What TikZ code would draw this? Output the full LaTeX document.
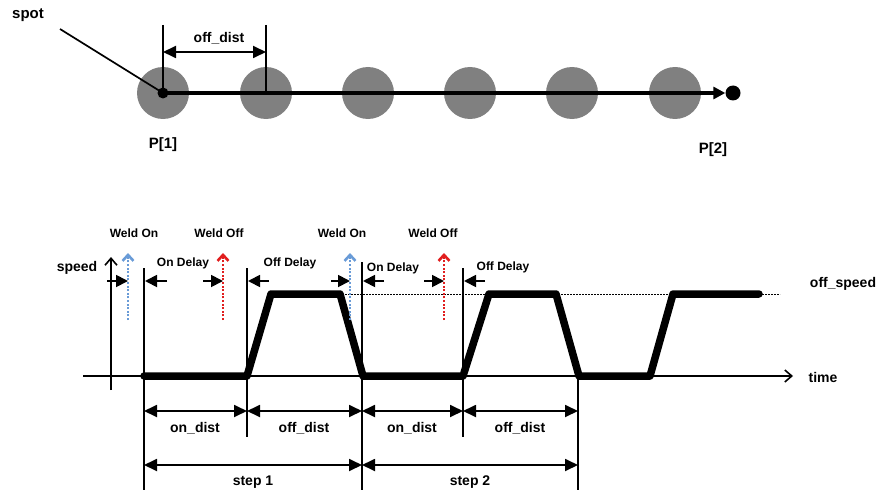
\documentclass[tikz,border=0pt]{standalone}
\usepackage{fontspec}
\setmainfont{Liberation Sans}
\usetikzlibrary{arrows.meta,positioning}
\definecolor{weldblue}{RGB}{105,155,215}
\definecolor{weldred}{RGB}{225,30,30}
\definecolor{spotgray}{RGB}{128,128,128}
\tikzset{
    lbl/.style={font=\fontsize{14}{16}\selectfont\bfseries, inner sep=1pt},
    smalllbl/.style={font=\fontsize{12}{14}\selectfont\bfseries, inner sep=1pt},
    biglbl/.style={font=\fontsize{15}{17}\selectfont\bfseries, inner sep=1pt},
    spotcircle/.style={circle, fill=spotgray, minimum size=52pt, inner sep=0pt},
    blackdot/.style={circle, fill=black, inner sep=0pt, minimum size=#1},
    extline/.style={draw, line width=1.7pt},
    track/.style={draw, line width=3.2pt, -{Triangle[length=12pt,width=12pt]}},
    dim/.style={draw, line width=1.8pt, {Triangle[length=13pt,width=12pt]}-{Triangle[length=13pt,width=12pt]}},
    delay/.style={draw, line width=1.8pt, -{Triangle[length=12pt,width=12pt]}},
    axis/.style={draw, line width=1.6pt, -{Straight Barb[length=7pt,width=12pt]}},
    weldon/.style={draw=weldblue, line width=2.6pt, dash pattern=on 2pt off 1.6pt, -{Straight Barb[length=6pt,width=11pt]}},
    weldoff/.style={draw=weldred, line width=2.6pt, dash pattern=on 2pt off 1.6pt, -{Straight Barb[length=6pt,width=11pt]}},
    profile/.style={draw, line width=7.5pt, line cap=round, line join=round}
}

\begin{document}
\begin{tikzpicture}[x=1pt, y=-1pt]
    \useasboundingbox (0,0) rectangle (877,492);

    % spots along the path
    \foreach \i/\x in {1/163,2/266,3/368,4/470,5/572,6/675}
        \node[spotcircle] (c\i) at (\x,93) {};
    \node[blackdot=11pt] (p1) at (163,93) {};
    \node[blackdot=15pt] (p2) at (733,93) {};
    \node[biglbl] (spot) at (28,15) {spot};
    \node[biglbl] (P1) at (163,145) {P[1]};
    \node[biglbl] (P2) at (713,150) {P[2]};
    \coordinate (spotend) at (60,29);
    \coordinate (e1) at (163,25);
    \coordinate (e2) at (266,25);
    \coordinate (d1) at (163,52);
    \coordinate (d2) at (266,52);
    \node[lbl] (offdist) at (219,38) {off\_dist};

    \draw[line width=1.7pt] (spotend) -- (p1.center);
    \draw[track] (p1.center) -- (p2);
    \draw[extline] (e1) -- (p1.center);
    \draw[extline] (e2) -- (c2.center);
    \draw[dim] (d1) -- (d2);

    % axes
    \coordinate (t0) at (83,376);
    \coordinate (t1) at (793,376);
    \coordinate (s0) at (111,390);
    \coordinate (s1) at (111,257);
    \node[lbl] (speed) at (77,268) {speed};
    \node[lbl] (time) at (823,377) {time};
    \node[lbl] (offspeed) at (843,284) {off\_speed};
    \draw[axis] (t0) -- (t1);
    \draw[axis] (s0) -- (s1);
    \coordinate (o0) at (342,294);
    \coordinate (o1) at (780,294);
    \draw[line width=0.8pt, dash pattern=on 2pt off 1pt] (o0) -- (o1);

    % speed profile
    \draw[profile] (144,376) -- (247,376) -- (271,294) -- (340,294) -- (363,376)
        -- (463,376) -- (489,294) -- (556,294) -- (579,376) -- (650,376)
        -- (673,294) -- (759,294);

    % marker lines
    \foreach \n/\x/\a/\b in {m1/144/268/490, m2/247/268/437, m3/362/262/490, m4/463/268/437, m5/578/376/490} {
        \coordinate (\n top) at (\x,\a);
        \coordinate (\n bot) at (\x,\b);
        \draw[extline] (\n top) -- (\n bot);
    }

    % on / off distances
    \foreach \n/\x in {1/144,2/247,3/362,4/463,5/578} {
        \coordinate (q\n) at (\x,411);
        \coordinate (r\n) at (\x,465);
    }
    \draw[dim] (q1) -- (q2);
    \draw[dim] (q2) -- (q3);
    \draw[dim] (q3) -- (q4);
    \draw[dim] (q4) -- (q5);
    \draw[dim] (r1) -- (r3);
    \draw[dim] (r3) -- (r5);
    \node[lbl] (ond1) at (195,428) {on\_dist};
    \node[lbl] (offd1) at (304,428) {off\_dist};
    \node[lbl] (ond2) at (412,428) {on\_dist};
    \node[lbl] (offd2) at (520,428) {off\_dist};
    \node[lbl] (step1) at (253,482) {step 1};
    \node[lbl] (step2) at (470,482) {step 2};

    % weld signals
    \node[smalllbl] (won1) at (134,233) {Weld On};
    \node[smalllbl] (woff1) at (219,233) {Weld Off};
    \node[smalllbl] (won2) at (342,233) {Weld On};
    \node[smalllbl] (woff2) at (433,233) {Weld Off};
    \foreach \n/\x in {a/128,b/223,c/350,d/444} {
        \coordinate (w\n0) at (\x,320);
        \coordinate (w\n1) at (\x,253);
        \coordinate (w\n) at (\x,281);
    }
    \draw[weldon] (wa0) -- (wa1);
    \draw[weldoff] (wb0) -- (wb1);
    \draw[weldon] (wc0) -- (wc1);
    \draw[weldoff] (wd0) -- (wd1);

    % delays
    \node[smalllbl] (ondel1) at (183,263) {On Delay};
    \node[smalllbl] (offdel1) at (290,263) {Off Delay};
    \node[smalllbl] (ondel2) at (393,268) {On Delay};
    \node[smalllbl] (offdel2) at (503,267) {Off Delay};
    \coordinate (k1) at (107,281);
    \coordinate (k2) at (167,281);
    \coordinate (k3) at (203,281);
    \coordinate (k4) at (269,281);
    \coordinate (k5) at (331,281);
    \coordinate (k6) at (384,281);
    \coordinate (k7) at (424,281);
    \coordinate (k8) at (485,281);
    \coordinate (h1) at (145,281);
    \coordinate (h2) at (248,281);
    \coordinate (h3) at (363,281);
    \coordinate (h4) at (464,281);
    \draw[delay] (k1) -- (wa);
    \draw[delay] (k2) -- (h1);
    \draw[delay] (k3) -- (wb);
    \draw[delay] (k4) -- (h2);
    \draw[delay] (k5) -- (wc);
    \draw[delay] (k6) -- (h3);
    \draw[delay] (k7) -- (wd);
    \draw[delay] (k8) -- (h4);
\end{tikzpicture}
\end{document}
